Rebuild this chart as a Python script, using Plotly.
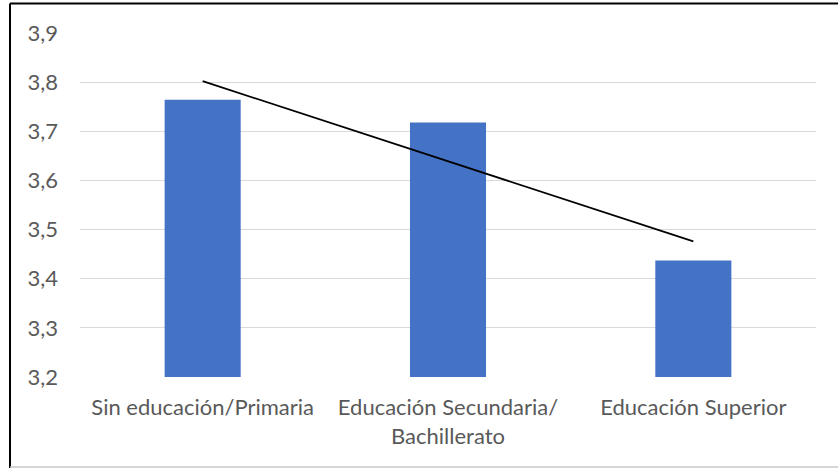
import plotly.graph_objects as go

categories = ["Sin educación/Primaria", "Educación Secundaria/<br>Bachillerato", "Educación Superior"]
values = [3.764, 3.718, 3.437]
trend_categories = [categories[0], categories[2]]
trend_values = [3.802, 3.476]
y_ticks = [3.2, 3.3, 3.4, 3.5, 3.6, 3.7, 3.8, 3.9]

W, H = 838, 468
L, R, T, B = 80, 22, 33, 91
pw, ph = W - L - R, H - T - B

def px(x):
    return (x - L) / pw

def py(y):
    return (H - B - y) / ph

fig = go.Figure()
fig.add_trace(go.Bar(x=categories, y=values, marker=dict(color="#4472C4", line=dict(width=0)),
                     hoverinfo="skip"))
fig.add_trace(go.Scatter(x=trend_categories, y=trend_values, mode="lines",
                         line=dict(color="#000000", width=1.8), hoverinfo="skip"))

fig.update_layout(
    width=W, height=H,
    margin=dict(l=L, r=R, t=T, b=B, autoexpand=False),
    paper_bgcolor="white", plot_bgcolor="white",
    showlegend=False,
    bargap=0.69,
    separators=",.",
    font=dict(family="Lato, 'Open Sans', sans-serif", size=22, color="#595959"),
    xaxis=dict(showgrid=False, showline=False, ticks="", zeroline=False,
               tickfont=dict(size=22, color="#595959"), ticklabelstandoff=15),
    yaxis=dict(range=[3.2, 3.9], tickvals=y_ticks, tickformat=".1f",
               showgrid=True, gridcolor="#D9D9D9", gridwidth=1, zeroline=False,
               showline=False, ticks="", tickfont=dict(size=22, color="#595959"),
               ticklabelstandoff=21),
    shapes=[
        dict(type="line", xref="paper", yref="paper", x0=px(10), x1=px(10), y0=py(470), y1=py(3.5),
             line=dict(color="black", width=2)),
        dict(type="line", xref="paper", yref="paper", x0=px(10), x1=px(845), y0=py(3.5), y1=py(3.5),
             line=dict(color="black", width=2)),
        dict(type="line", xref="paper", yref="paper", x0=px(10), x1=px(845), y0=py(467), y1=py(467),
             line=dict(color="#C8C8C8", width=1.5)),
    ],
)

fig.write_html("out.html", config={"displayModeBar": False},
               post_script="document.body.style.margin='0';document.body.style.overflow='hidden';")
